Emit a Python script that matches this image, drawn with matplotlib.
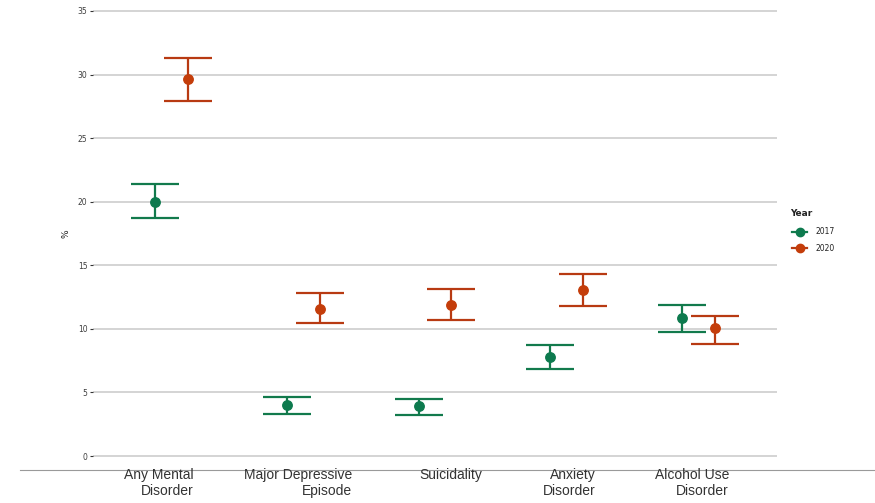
import numpy as np
import matplotlib.pyplot as plt
from matplotlib.lines import Line2D

# data (% with 95% CI)
categories = ["Any Mental\nDisorder", "Major Depressive\nEpisode", "Suicidality",
              "Anxiety\nDisorder", "Alcohol Use\nDisorder"]
years = ["2017", "2020"]
est_2017 = [20.0, 4.0, 3.9, 7.8, 10.85]
lo_2017 = [18.7, 3.3, 3.25, 6.85, 9.75]
hi_2017 = [21.4, 4.65, 4.5, 8.75, 11.9]
est_2020 = [29.65, 11.6, 11.9, 13.05, 10.05]
lo_2020 = [27.9, 10.45, 10.7, 11.8, 8.8]
hi_2020 = [31.3, 12.8, 13.1, 14.3, 11.05]

col_2017 = "#127a4c"
col_2020 = "#b83a12"
pt_2017 = "#0d7a4e"
pt_2020 = "#c43d0a"

fig = plt.figure(figsize=(8.75, 5.03), dpi=100)
ax = fig.add_axes([93/875, 1 - 462.4/503, (777-93)/875, (462.4-4.6)/503])

x = np.arange(1, len(categories) + 1)
dodge = 0.125
series = [(est_2017, lo_2017, hi_2017, col_2017, pt_2017, -dodge),
          (est_2020, lo_2020, hi_2020, col_2020, pt_2020, dodge)]
for est, lo, hi, c, pc, off in series:
    est = np.array(est)
    err = [est - np.array(lo), np.array(hi) - est]
    ax.errorbar(x + off, est, yerr=err, fmt="none", ecolor=c, elinewidth=1.6,
                capsize=17, capthick=1.6, zorder=3)
    ax.plot(x + off, est, "o", color=pc, markersize=6.8, zorder=4)

ax.set_xlim(0.4, 5.6)
ax.set_ylim(-0.5, 35.5)
ax.set_yticks([0, 5, 10, 15, 20, 25, 30, 35])
ax.set_xticks([])
ax.grid(axis="y", color="#c9c9c9", linewidth=1.1)
ax.set_axisbelow(True)
for s in ax.spines.values():
    s.set_visible(False)
ax.tick_params(axis="y", length=2.5, width=0.8, color="#333333", labelsize=5.5,
               labelcolor="#3d3d3d", pad=1.5)
ax.set_ylabel("%", fontsize=6.5, color="#222222", labelpad=5)

# separator line and category labels under the plot
fig.add_artist(Line2D([20/875, 1], [1 - 470/503, 1 - 470/503], color="#9a9a9a", lw=0.8))
label_right = [194, 352, 482, 596, 729]
for lab, xr in zip(categories, label_right):
    fig.text(xr/875, 1 - 468/503, lab, ha="right", va="top", fontsize=10,
             color="#333333", linespacing=1.2,
             family=["Liberation Sans Narrow", "Liberation Sans", "DejaVu Sans"])

# legend
fig.text(790/875, 1 - 214/503, "Year", fontsize=6.5, fontweight="bold",
         color="#222222", va="center", ha="left")
for i, (yr, c, pc) in enumerate(zip(years, [col_2017, col_2020], [pt_2017, pt_2020])):
    yy = 1 - (232 + 16 * i)/503
    fig.add_artist(Line2D([792/875, 807/875], [yy, yy], color=c, lw=1.6))
    fig.add_artist(Line2D([799.5/875], [yy], marker="o", color=pc, markersize=6))
    fig.text(815/875, yy, yr, fontsize=5.5, color="#222222", va="center", ha="left")

fig.savefig("out.png", dpi=100)
